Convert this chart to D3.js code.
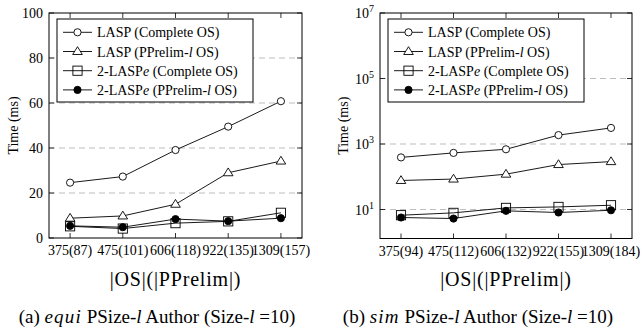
<!DOCTYPE html>
<html>
<head>
<meta charset="utf-8">
<script src="https://cdn.jsdelivr.net/npm/d3@7"></script>
<style>
  body { margin: 0; background: #fff; }
  svg text { font-family: "Liberation Serif", "DejaVu Serif", "Times New Roman", Times, serif; }
</style>
</head>
<body>
<div id="chart"></div>
<script>
// categories
const equiCats = ["375(87)", "475(101)", "606(118)", "922(135)", "1309(157)"];
const simCats = ["375(94)", "475(112)", "606(132)", "922(155)", "1309(184)"];

// equi (linear, ms)
const equiLaspComplete = [24.6, 27.3, 39.1, 49.5, 60.8];
const equiLaspPrelim = [8.8, 9.8, 15.0, 29.0, 34.2];
const equi2LaspComplete = [5.2, 4.2, 6.6, 7.4, 11.2];
const equi2LaspPrelim = [5.4, 4.8, 8.4, 7.5, 8.8];

// sim (log, ms)
const simLaspComplete = [390, 535, 690, 1870, 3100];
const simLaspPrelim = [77, 85, 120, 236, 290];
const sim2LaspComplete = [6.7, 7.9, 11.2, 12, 13.5];
const sim2LaspPrelim = [5.7, 5.3, 9.1, 8.1, 9.5];

const equiTicks = [0, 20, 40, 60, 80, 100];
const simTicks = [1, 3, 5, 7]; // exponents

const seriesNames = ["LASP (Complete OS)", "LASP (PPrelim-l OS)", "2-LASPe (Complete OS)", "2-LASPe (PPrelim-l OS)"];
const markers = ["circle", "triangle", "square", "dot"];

const svg = d3.select("#chart").append("svg")
  .attr("width", 641)
  .attr("height", 333);

function drawMarker(g, type, x, y) {
  if (type === "circle") {
    g.append("circle").attr("cx", x).attr("cy", y).attr("r", 3.6)
      .attr("fill", "#fff").attr("stroke", "#000").attr("stroke-width", 0.9);
  } else if (type === "dot") {
    g.append("circle").attr("cx", x).attr("cy", y).attr("r", 3.6)
      .attr("fill", "#000").attr("stroke", "#000").attr("stroke-width", 0.9);
  } else if (type === "triangle") {
    g.append("path")
      .attr("d", `M${x},${y - 4.8}L${x + 4.8},${y + 3}L${x - 4.8},${y + 3}Z`)
      .attr("fill", "#fff").attr("stroke", "#000").attr("stroke-width", 0.9);
  } else {
    g.append("rect").attr("x", x - 4.6).attr("y", y - 4.6).attr("width", 9.2).attr("height", 9.2)
      .attr("fill", "none").attr("stroke", "#000").attr("stroke-width", 0.9);
  }
}

// legend label with italic l / e
function legendText(t, s) {
  const parts = {
    "LASP (Complete OS)": [["LASP (Complete OS)", false]],
    "LASP (PPrelim-l OS)": [["LASP (PPrelim-", false], ["l", true], [" OS)", false]],
    "2-LASPe (Complete OS)": [["2-LASP", false], ["e", true], [" (Complete OS)", false]],
    "2-LASPe (PPrelim-l OS)": [["2-LASP", false], ["e", true], [" (PPrelim-", false], ["l", true], [" OS)", false]]
  }[s];
  parts.forEach(p => {
    t.append("tspan").text(p[0]).style("font-style", p[1] ? "italic" : "normal");
  });
}

function drawPanel(opt) {
  const g = svg.append("g");
  const x = d3.scalePoint().domain(opt.cats).range([opt.x0, opt.x1]).padding(0.4);
  const y = opt.y;

  // grid
  g.selectAll(".grid").data(opt.grid).join("line")
    .attr("x1", opt.x0).attr("x2", opt.x1)
    .attr("y1", d => y(d)).attr("y2", d => y(d))
    .attr("stroke", "#bdbdbd").attr("stroke-width", 1).attr("stroke-dasharray", "6,4");

  // series
  opt.series.forEach((vals, i) => {
    const pts = opt.cats.map((c, j) => [x(c), y(vals[j])]);
    g.append("path").attr("d", d3.line()(pts))
      .attr("fill", "none").attr("stroke", "#000").attr("stroke-width", 0.9);
    pts.forEach(p => drawMarker(g, markers[i], p[0], p[1]));
  });

  // frame
  g.append("rect").attr("x", opt.x0).attr("y", opt.yTop)
    .attr("width", opt.x1 - opt.x0).attr("height", opt.yBot - opt.yTop)
    .attr("fill", "none").attr("stroke", "#000").attr("stroke-width", 1);

  // x ticks (inward top/bottom)
  opt.cats.forEach(c => {
    g.append("line").attr("x1", x(c)).attr("x2", x(c)).attr("y1", opt.yBot).attr("y2", opt.yBot - 5)
      .attr("stroke", "#000").attr("stroke-width", 0.8);
    g.append("line").attr("x1", x(c)).attr("x2", x(c)).attr("y1", opt.yTop).attr("y2", opt.yTop + 5)
      .attr("stroke", "#000").attr("stroke-width", 0.8);
  });
  g.selectAll(".xlab").data(opt.cats).join("text")
    .attr("x", d => x(d)).attr("y", opt.yBot + 17)
    .attr("text-anchor", "middle").style("font-size", "14px")
    .text(d => d);

  // y ticks
  opt.yTicks.forEach(v => {
    g.append("line").attr("x1", opt.x0).attr("x2", opt.x0 + 5).attr("y1", y(v)).attr("y2", y(v))
      .attr("stroke", "#000").attr("stroke-width", 0.8);
    g.append("line").attr("x1", opt.x1).attr("x2", opt.x1 - 5).attr("y1", y(v)).attr("y2", y(v))
      .attr("stroke", "#000").attr("stroke-width", 0.8);
    const t = g.append("text").attr("x", opt.x0 - 6).attr("y", y(v) + 5)
      .attr("text-anchor", "end").style("font-size", "14px");
    opt.tickLabel(t, v);
  });

  // y label
  g.append("text")
    .attr("transform", `translate(${opt.yLabelX},${(opt.yTop + opt.yBot) / 2}) rotate(-90)`)
    .attr("text-anchor", "middle").style("font-size", "14px")
    .text("Time (ms)");

  // x label
  g.append("text").attr("x", (opt.x0 + opt.x1) / 2).attr("y", 286)
    .attr("text-anchor", "middle").style("font-size", "20px")
    .style("letter-spacing", "0.8px")
    .text("|OS|(|PPrelim|)");

  // caption
  const cap = g.append("text").attr("x", opt.capX).attr("y", 323)
    .attr("text-anchor", "middle").style("font-size", "19px");
  cap.append("tspan").text(opt.capLetter + "  ");
  cap.append("tspan").text(opt.capWord).style("font-style", "italic").style("letter-spacing", "1.2px");
  cap.append("tspan").text(" PSize-");
  cap.append("tspan").text("l").style("font-style", "italic");
  cap.append("tspan").text(" Author (Size-");
  cap.append("tspan").text("l").style("font-style", "italic");
  cap.append("tspan").text("  =10)");

  // legend
  const lx = opt.x0 + 8, ly = 19;
  const lg = g.append("g");
  lg.append("rect").attr("x", lx).attr("y", ly).attr("width", 196).attr("height", 83)
    .attr("fill", "#fff").attr("stroke", "#000").attr("stroke-width", 1);
  seriesNames.forEach((s, i) => {
    const yy = ly + 13.3 + i * 19.2;
    lg.append("line").attr("x1", lx + 6).attr("x2", lx + 35).attr("y1", yy).attr("y2", yy)
      .attr("stroke", "#000").attr("stroke-width", 0.9);
    drawMarker(lg, markers[i], lx + 20.5, yy);
    const t = lg.append("text").attr("x", lx + 40).attr("y", yy + 5).style("font-size", "14px");
    legendText(t, s);
  });
}

drawPanel({
  cats: equiCats,
  x0: 49, x1: 302, yTop: 13, yBot: 238,
  y: d3.scaleLinear().domain([0, 100]).range([238, 13]),
  grid: [20, 40, 60, 80],
  yTicks: equiTicks,
  tickLabel: (t, v) => t.text(v),
  series: [equiLaspComplete, equiLaspPrelim, equi2LaspComplete, equi2LaspPrelim],
  yLabelX: 17.5,
  capX: 157, capLetter: "(a)", capWord: "equi"
});

drawPanel({
  cats: simCats,
  x0: 380, x1: 632, yTop: 13, yBot: 238.5,
  y: d3.scaleLog().domain([Math.pow(10, 0.115), 1e7]).range([238.5, 13]),
  grid: [10, 1e3, 1e5],
  yTicks: simTicks.map(e => Math.pow(10, e)),
  tickLabel: (t, v) => {
    t.append("tspan").text("10");
    t.append("tspan").text(Math.round(Math.log10(v))).attr("dy", -6).style("font-size", "10px");
  },
  series: [simLaspComplete, simLaspPrelim, sim2LaspComplete, sim2LaspPrelim],
  yLabelX: 348,
  capX: 478, capLetter: "(b)", capWord: "sim"
});
</script>
</body>
</html>
